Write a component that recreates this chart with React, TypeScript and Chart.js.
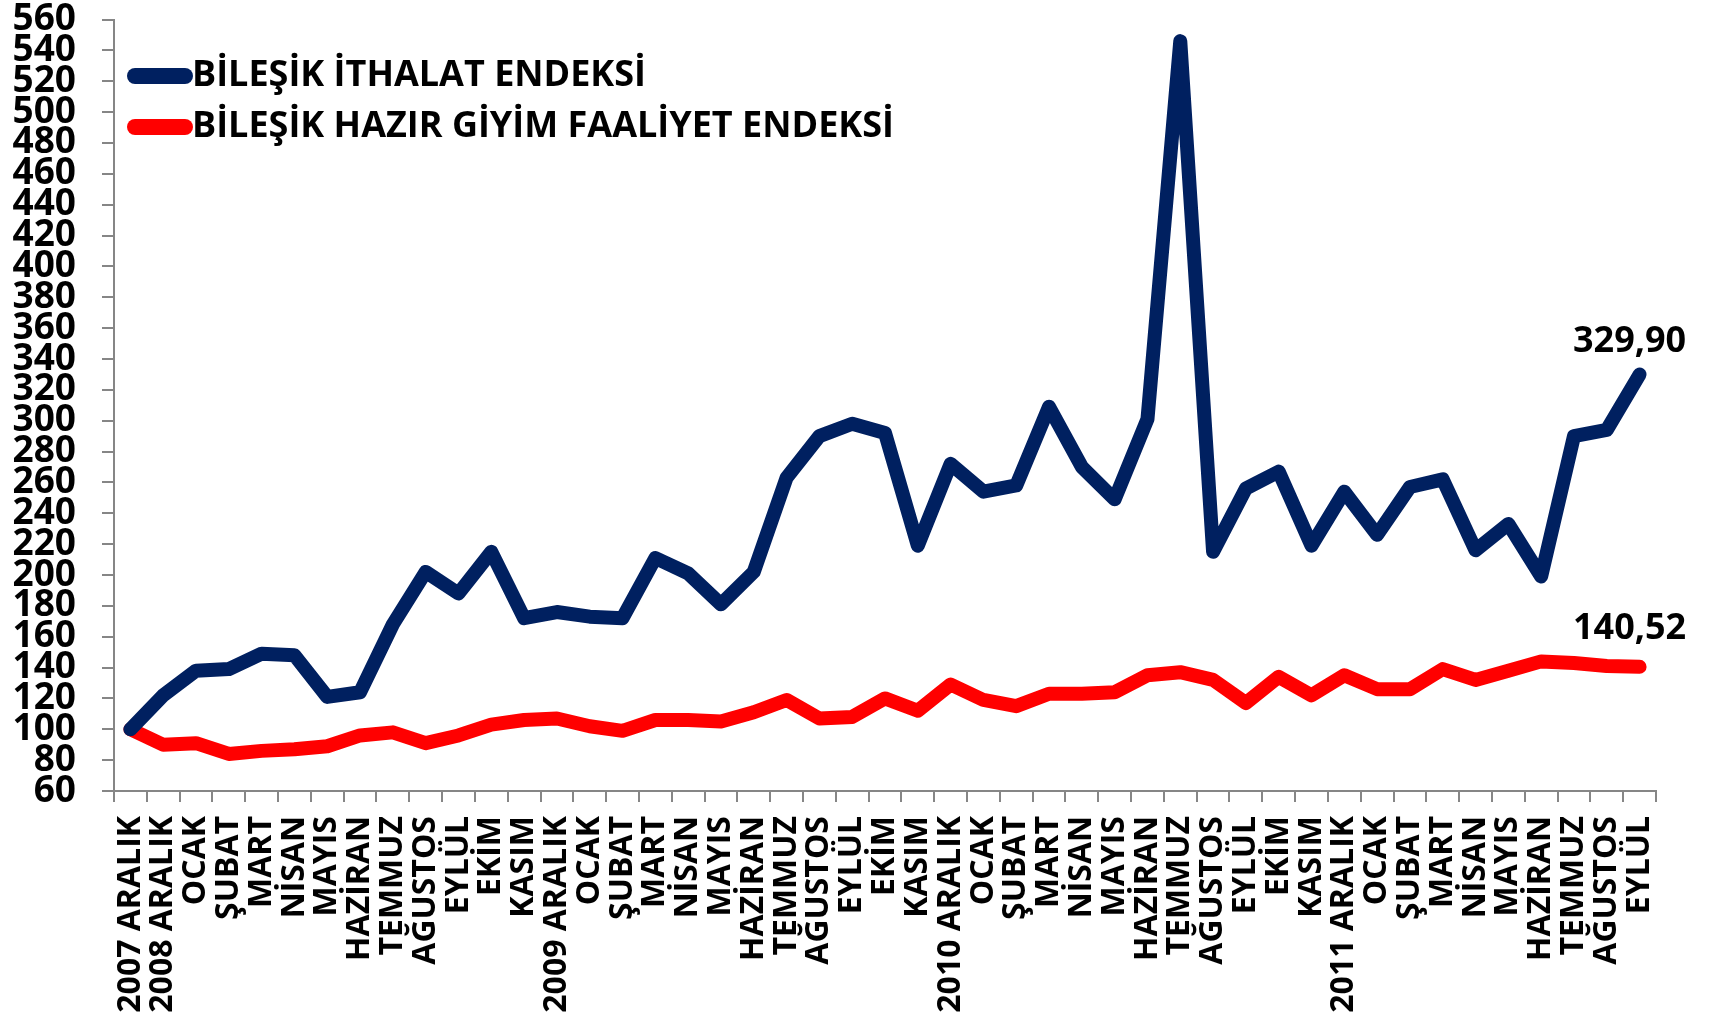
import React, { useEffect, useRef } from "react";
import { Chart, registerables } from "chart.js";

Chart.register(...registerables);

const categories = [
  "2007 ARALIK", "2008 ARALIK", "OCAK", "ŞUBAT", "MART", "NİSAN", "MAYIS", "HAZİRAN", "TEMMUZ", "AĞUSTOS", "EYLÜL", "EKİM", "KASIM",
  "2009 ARALIK", "OCAK", "ŞUBAT", "MART", "NİSAN", "MAYIS", "HAZİRAN", "TEMMUZ", "AĞUSTOS", "EYLÜL", "EKİM", "KASIM",
  "2010 ARALIK", "OCAK", "ŞUBAT", "MART", "NİSAN", "MAYIS", "HAZİRAN", "TEMMUZ", "AĞUSTOS", "EYLÜL", "EKİM", "KASIM",
  "2011 ARALIK", "OCAK", "ŞUBAT", "MART", "NİSAN", "MAYIS", "HAZİRAN", "TEMMUZ", "AĞUSTOS", "EYLÜL",
];

const importIndex = [
  100, 122, 138, 139, 149, 148, 121, 124, 168, 202, 188, 215, 172,
  176, 173, 172, 211, 201, 181, 202, 263, 290, 298, 292, 219,
  272, 254, 258, 309, 270, 249, 301, 546, 215, 256, 267, 219,
  254, 226, 257, 262, 216, 233, 199, 290, 294, 329.9,
];

const apparelIndex = [
  100, 90, 91, 84, 86, 87, 89, 96, 98, 91, 96, 103, 106,
  107, 102, 99, 106, 106, 105, 111, 119, 107, 108, 120, 112,
  129, 119, 115, 123, 123, 124, 135, 137, 132, 117, 134, 122,
  135, 126, 126, 139, 132, 138, 144, 143, 141, 140.52,
];

const seriesNames = ["BİLEŞİK İTHALAT ENDEKSİ", "BİLEŞİK HAZIR GİYİM FAALİYET ENDEKSİ"];
const seriesColors = ["#002060", "#FF0000"];

const yMin = 60;
const yMax = 560;
const yStep = 20;

const FONT = "'Open Sans', 'DejaVu Sans', sans-serif";
const AXIS_COLOR = "#868686";

const legendPlugin = {
  id: "customLegend",
  afterDraw(chart: any) {
    const ctx = chart.ctx;
    ctx.save();
    chart.data.datasets.forEach((ds: any, i: number) => {
      const y = 76 + i * 51;
      ctx.strokeStyle = ds.borderColor;
      ctx.lineWidth = 16;
      ctx.lineCap = "round";
      ctx.beginPath();
      ctx.moveTo(135, y);
      ctx.lineTo(185, y);
      ctx.stroke();
      ctx.fillStyle = "#000";
      ctx.font = `bold 36px ${FONT}`;
      ctx.textAlign = "left";
      ctx.textBaseline = "middle";
      ctx.fillText(ds.label, 192, y);
    });
    ctx.restore();
  },
};

const endLabelPlugin = {
  id: "endLabels",
  afterDatasetsDraw(chart: any) {
    const ctx = chart.ctx;
    ctx.save();
    chart.data.datasets.forEach((ds: any, i: number) => {
      const meta = chart.getDatasetMeta(i);
      const last = meta.data[meta.data.length - 1];
      const v = ds.data[ds.data.length - 1];
      ctx.fillStyle = "#000";
      ctx.font = `bold 36px ${FONT}`;
      ctx.textAlign = "center";
      ctx.textBaseline = "alphabetic";
      ctx.fillText(v.toFixed(2).replace(".", ","), last.x - 10, last.y - (i === 0 ? 23 : 28));
    });
    ctx.restore();
  },
};

export default function App() {
  const ref = useRef<HTMLCanvasElement>(null);

  useEffect(() => {
    if (!ref.current) return;
    const chart = new Chart(ref.current, {
      type: "line",
      data: {
        labels: categories,
        datasets: [
          {
            label: seriesNames[0],
            data: importIndex,
            borderColor: seriesColors[0],
            backgroundColor: seriesColors[0],
            borderWidth: 14,
            pointRadius: 0,
            borderJoinStyle: "round",
            borderCapStyle: "round",
            tension: 0,
          },
          {
            label: seriesNames[1],
            data: apparelIndex,
            borderColor: seriesColors[1],
            backgroundColor: seriesColors[1],
            borderWidth: 14,
            pointRadius: 0,
            borderJoinStyle: "round",
            borderCapStyle: "round",
            tension: 0,
          },
        ],
      },
      options: {
        responsive: false,
        animation: false,
        layout: { padding: { top: 0, right: 57, left: 0, bottom: 0 } },
        plugins: {
          legend: { display: false },
          tooltip: { enabled: false },
          title: { display: false },
        },
        scales: {
          x: {
            offset: true,
            grid: {
              offset: true,
              drawOnChartArea: false,
              drawTicks: true,
              tickLength: 11,
              color: AXIS_COLOR,
              lineWidth: 2,
            },
            border: { display: true, color: AXIS_COLOR, width: 2 },
            ticks: {
              autoSkip: false,
              minRotation: 90,
              maxRotation: 90,
              padding: 14,
              color: "#000",
              font: { family: FONT, weight: "bold", size: 32, lineHeight: 1 },
            },
            afterFit(scale: any) {
              scale.height = 222;
            },
          },
          y: {
            min: yMin,
            max: yMax,
            grid: {
              drawOnChartArea: false,
              drawTicks: true,
              tickLength: 12,
              color: AXIS_COLOR,
              lineWidth: 2,
            },
            border: { display: true, color: AXIS_COLOR, width: 2 },
            ticks: {
              stepSize: yStep,
              autoSkip: false,
              padding: 26,
              color: "#000",
              font: { family: FONT, weight: "bold", size: 37, lineHeight: 1 },
            },
            afterFit(scale: any) {
              scale.width = 114;
              scale.paddingTop = 19.5;
              scale.paddingBottom = 0;
            },
          },
        },
      },
      plugins: [legendPlugin, endLabelPlugin],
    });
    return () => chart.destroy();
  }, []);

  return (
    <div style={{ position: "absolute", left: 0, top: 0, width: 1713, height: 1013, background: "#fff" }}>
      <canvas ref={ref} width={1713} height={1013} style={{ display: "block" }} />
    </div>
  );
}
